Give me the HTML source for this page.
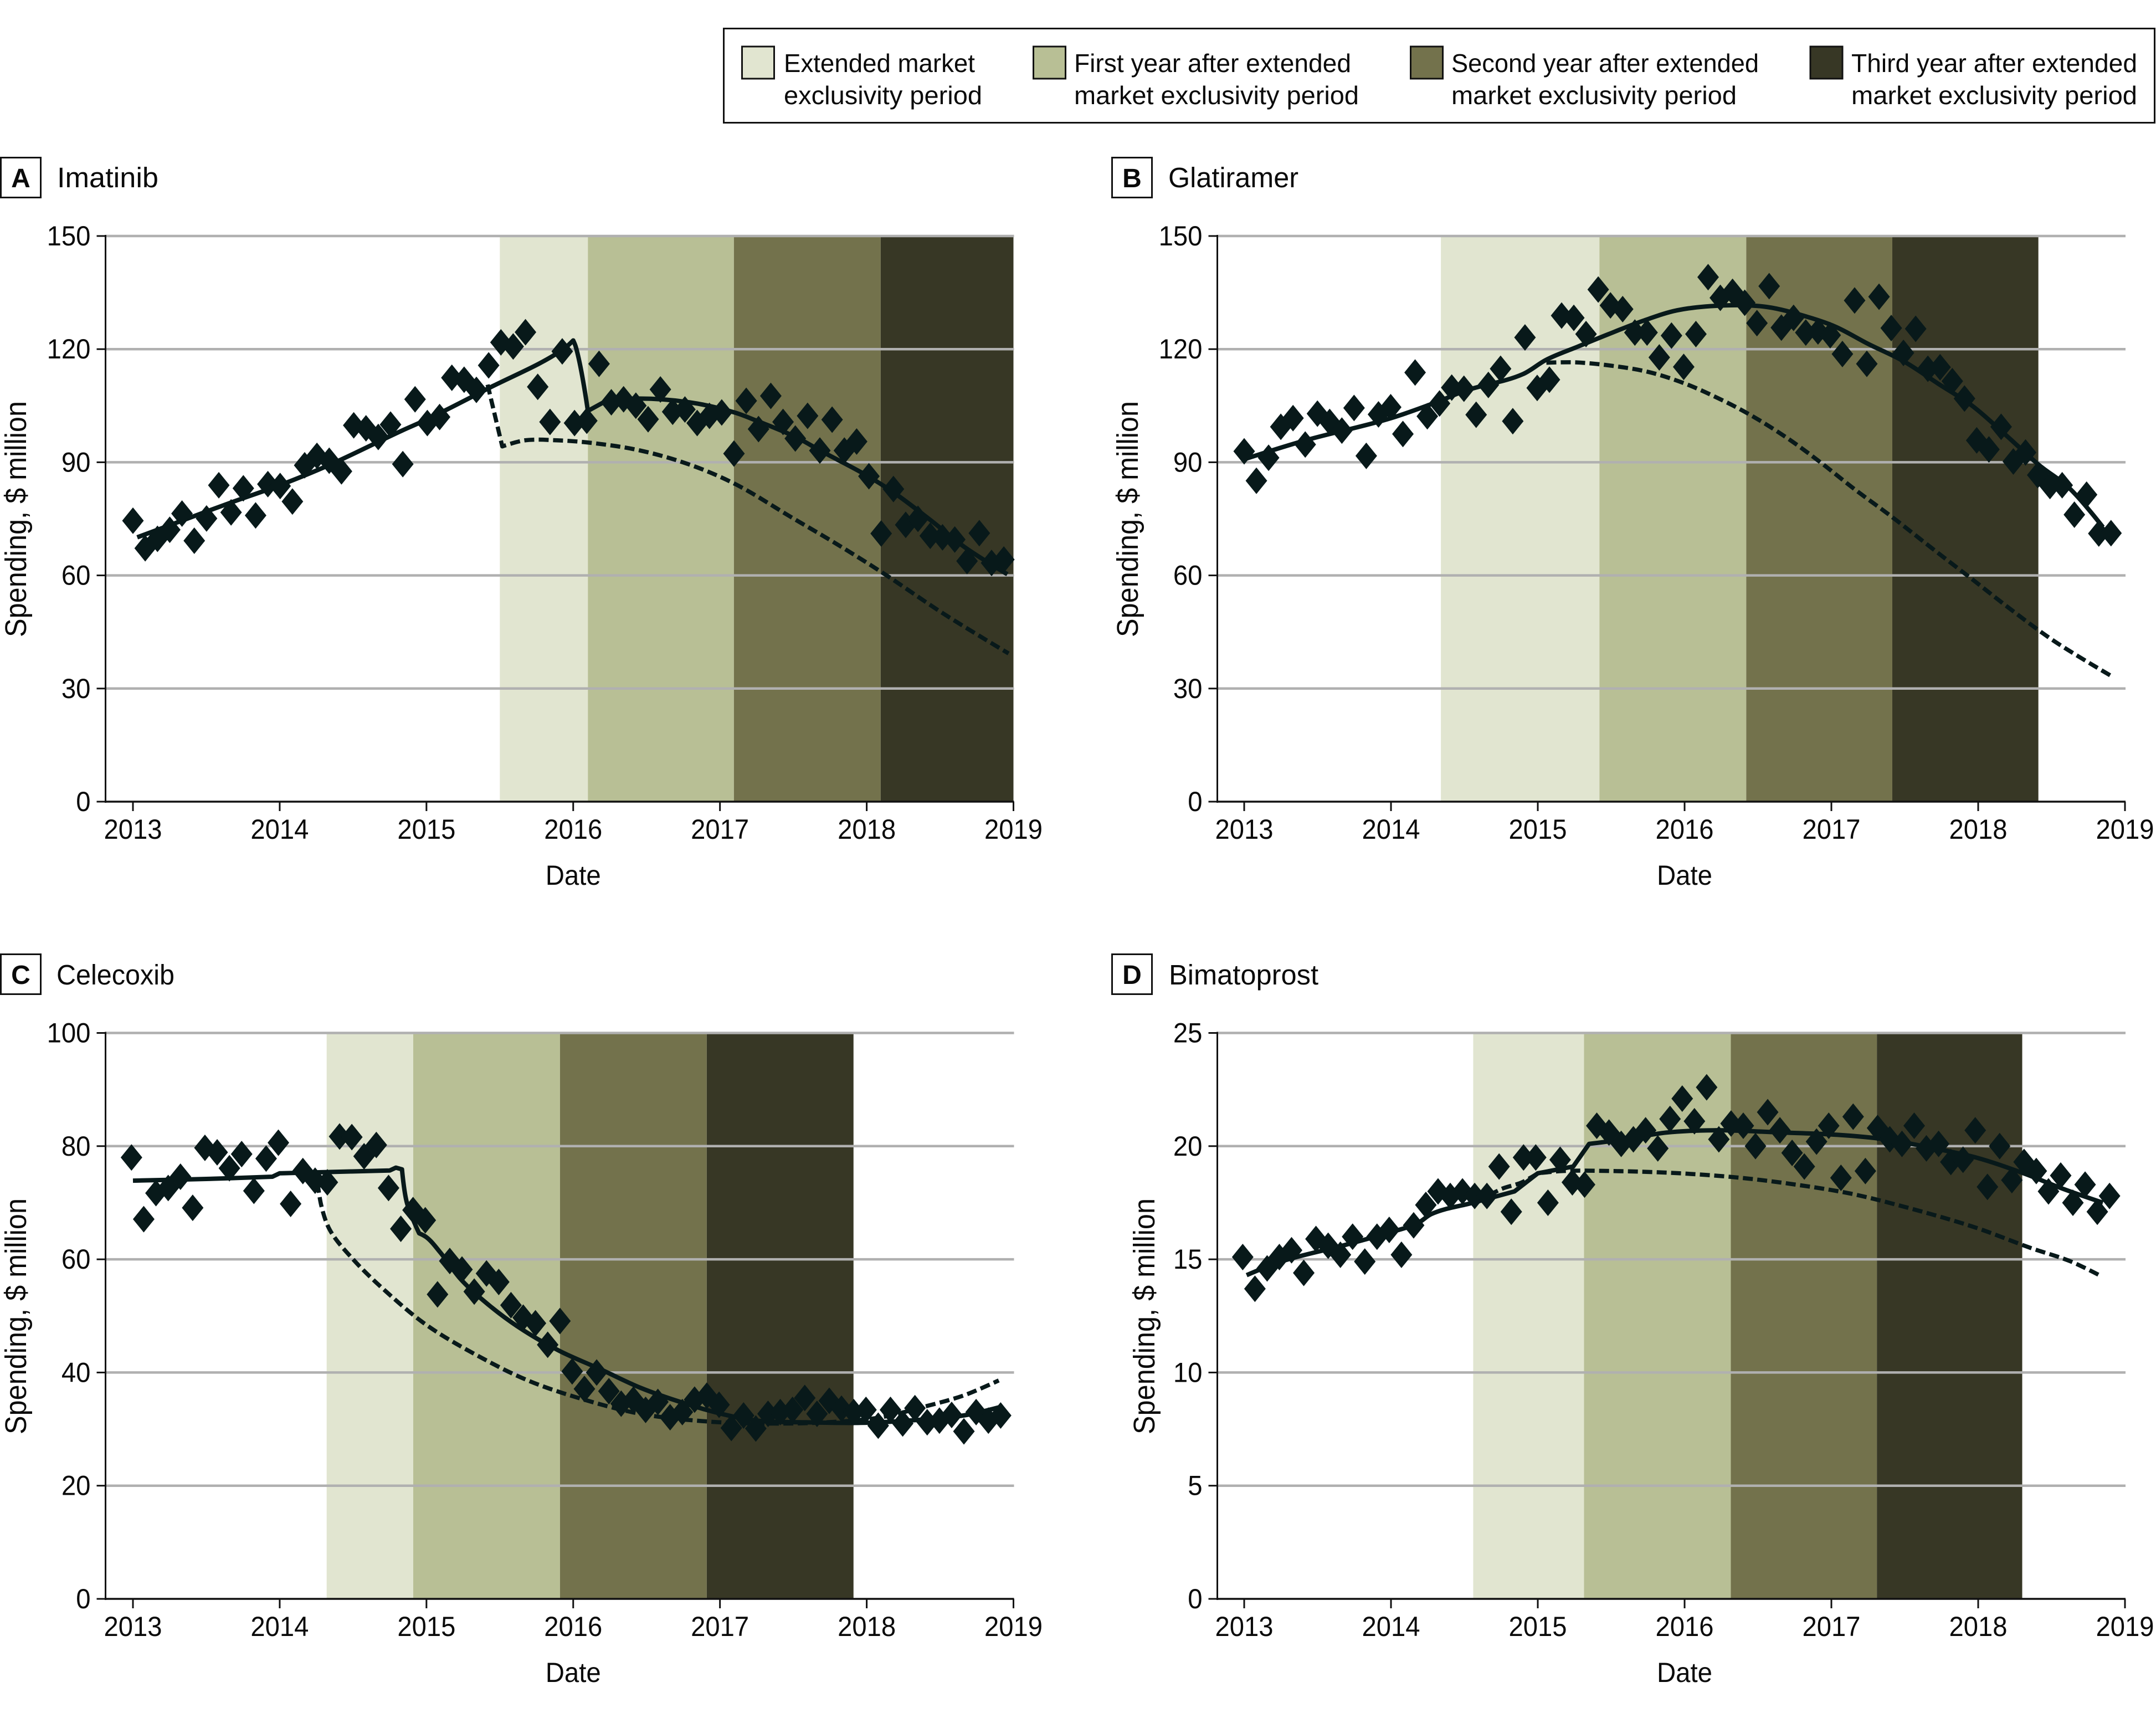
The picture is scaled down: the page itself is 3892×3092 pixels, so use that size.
<!DOCTYPE html>
<html lang="en">
<head>
<meta charset="utf-8">
<title>Spending by drug</title>
<style>
html,body{margin:0;padding:0;background:#fff;}
svg{display:block;}
text{font-family:"Liberation Sans",sans-serif;fill:#0a0a0a;}
</style>
</head>
<body>
<svg id="figure" xmlns="http://www.w3.org/2000/svg" width="3892" height="3092" viewBox="0 0 3892 3092">
<rect x="0" y="0" width="3892" height="3092" fill="#ffffff"/>
<g>
<rect x="1306.5" y="51.5" width="2583" height="170" fill="#fff" stroke="#111" stroke-width="3"/>
<rect x="1339.5" y="84" width="58" height="58" fill="#e1e5d0" stroke="#111" stroke-width="3"/>
<text font-size="46" x="1415" y="130" textLength="345" lengthAdjust="spacingAndGlyphs">Extended market</text>
<text font-size="46" x="1415" y="188" textLength="358" lengthAdjust="spacingAndGlyphs">exclusivity period</text>
<rect x="1865.5" y="84" width="58" height="58" fill="#b8bf95" stroke="#111" stroke-width="3"/>
<text font-size="46" x="1939" y="130" textLength="500" lengthAdjust="spacingAndGlyphs">First year after extended</text>
<text font-size="46" x="1939" y="188" textLength="514" lengthAdjust="spacingAndGlyphs">market exclusivity period</text>
<rect x="2546.5" y="84" width="58" height="58" fill="#73724c" stroke="#111" stroke-width="3"/>
<text font-size="46" x="2620" y="130" textLength="555" lengthAdjust="spacingAndGlyphs">Second year after extended</text>
<text font-size="46" x="2620" y="188" textLength="515" lengthAdjust="spacingAndGlyphs">market exclusivity period</text>
<rect x="3268" y="84" width="58" height="58" fill="#373725" stroke="#111" stroke-width="3"/>
<text font-size="46" x="3342" y="130" textLength="516" lengthAdjust="spacingAndGlyphs">Third year after extended</text>
<text font-size="46" x="3342" y="188" textLength="516" lengthAdjust="spacingAndGlyphs">market exclusivity period</text>
</g>
<g>
<rect x="1.5" y="284.5" width="72" height="72" fill="#fff" stroke="#111" stroke-width="3"/>
<text font-size="48" font-weight="700" x="37.5" y="338" text-anchor="middle">A</text>
<text font-size="51" x="103" y="338" textLength="183" lengthAdjust="spacingAndGlyphs">Imatinib</text>
<rect x="2007.5" y="284.5" width="72" height="72" fill="#fff" stroke="#111" stroke-width="3"/>
<text font-size="48" font-weight="700" x="2043.5" y="338" text-anchor="middle">B</text>
<text font-size="51" x="2109" y="338" textLength="235" lengthAdjust="spacingAndGlyphs">Glatiramer</text>
<rect x="1.5" y="1722.5" width="72" height="72" fill="#fff" stroke="#111" stroke-width="3"/>
<text font-size="48" font-weight="700" x="37.5" y="1776" text-anchor="middle">C</text>
<text font-size="51" x="102" y="1777" textLength="213" lengthAdjust="spacingAndGlyphs">Celecoxib</text>
<rect x="2007.5" y="1722.5" width="72" height="72" fill="#fff" stroke="#111" stroke-width="3"/>
<text font-size="48" font-weight="700" x="2043.5" y="1776" text-anchor="middle">D</text>
<text font-size="51" x="2110" y="1777" textLength="270" lengthAdjust="spacingAndGlyphs">Bimatoprost</text>
</g>
</svg>
<script>
const xTickLabels = ['2013','2014','2015','2016','2017','2018','2019'];
const bandColors = ['#e1e5d0','#b8bf95','#73724c','#373725'];

const yTicksA = [0,30,60,90,120,150];
const bandYearsA = [2015.5,2016.1,2017.095,2018.095,2019];
const spendingA = [74.5,67.2,69.7,72.1,76.4,69.2,75.1,83.9,76.7,83.1,75.9,84.2,83.7,79.6,89.2,91.7,90.4,87.6,99.8,99,96.7,100,89.5,106.7,100.4,102,112.4,111.9,109.2,115.7,121.8,120.7,124.5,110,100.7,119.4,100.4,101,116.1,105.9,106.7,105,101.4,109.3,103.4,104,100.4,102.3,103.2,92.3,106.3,98.8,107.6,100.7,96.3,102.3,93.1,101.3,93.1,95.5,86.3,71.1,82.9,73.4,75,70.5,70.1,69.5,63.8,71.2,63.3,64.2];
const fitMonthsA = [0.35,4,8,12,16,22,24,29,35.2,36,36.2,37.2,38.7,41.2,45.5,49.2,51,54.2,56.2,60,62.2,65.2,68,71.5];
const fitValuesA = [70.1,74.5,79.3,83.9,89.2,98.4,101.3,109.5,120,122.3,120.7,103.6,106.3,106.9,105.9,103.2,101,96.7,93.1,86.5,82,74.7,67.5,60.3];
const counterMonthsA = [29,30.2,32,34.8,37.6,41.5,45.5,49.2,54,57.3,61.2,66.3,71.6];
const counterValuesA = [110.6,94.2,95.8,95.8,95.1,93.1,89.4,84.3,75.1,68.8,60.9,49.8,39.3];

const yTicksB = [0,30,60,90,120,150];
const bandYearsB = [2014.34,2015.42,2016.42,2017.415,2018.41];
const spendingB = [92.9,85.1,91.2,99.4,101.7,94.7,102.9,100.7,98.4,104.4,91.7,102.7,104.6,97.5,113.8,102.2,105.6,109.8,109.5,102.6,110.5,114.8,100.9,123.1,109.7,111.9,128.9,128.3,124,135.8,131.6,130.6,124.4,124.4,117.8,123.6,115.3,124,139.1,133.6,135.2,132.3,126.9,136.7,125.7,128.3,124.4,124.7,123.7,118.7,132.9,116.1,133.9,125.6,119,125.4,114.8,115.2,111.5,106.9,95.8,93.4,99.4,90.2,92.6,86.6,83.7,83.9,76.1,81.4,71.1,71.2];
const fitMonthsB = [0,5,12,16,18,22.8,24.7,27.3,29.8,32.6,35.4,39.3,42.7,46,48.3,51,53.9,56.7,59.5,62.3,65,67.4,70.2];
const fitValuesB = [90.8,95.8,101.7,106.3,108.9,113.4,117.2,120.7,124,127.5,130.3,131.6,131.2,128.6,126,121.4,116.8,110.9,105,97.1,89.2,83.3,72.8];
const counterMonthsB = [24.7,27,29.8,33.1,36,38.8,41.3,44.4,46.9,50,53,56.1,59.5,62.9,66.2,71];
const counterValuesB = [116.4,116.5,115.7,113.9,110.9,106.9,102.7,96.4,90.5,82.6,75.4,67.5,59,50.4,42.6,33.1];

const yTicksC = [0,20,40,60,80,100];
const bandYearsC = [2014.32,2014.91,2015.91,2016.91,2017.91];
const spendingC = [78,67.1,71.7,72.6,74.6,69.1,79.7,78.9,76.1,78.6,72.1,77.8,80.6,69.8,75.6,73.9,73.6,81.7,81.6,78.2,80.2,72.6,65.4,68.7,66.9,53.8,59.7,58.2,54.3,57.5,56,51.9,49.7,48.7,44.9,49.1,40.2,37.1,40,36.7,34.5,35.2,33.4,34.8,32.1,33,35.2,35.9,34.3,30.2,32.4,30.1,32.7,33,33.4,35.5,32.7,35,33.6,33,33.4,30.6,33.4,31,33.7,31.2,31.5,32.5,29.6,33,31.5,32.4];
const fitMonthsC = [0,6,11.4,12,15.6,21,21.5,22,22.4,23.4,24,25.1,26.8,28.5,31.4,34.8,38.2,41.5,44.9,48.3,51,55,59.5,63.4,67.9,70.9];
const fitValuesC = [73.9,74.2,74.6,75.2,75.4,75.7,76.2,75.9,70,64.6,63.9,61.3,56.5,53,48.2,43.9,40.6,37.3,34.7,32.6,31.5,31.2,31.1,31.5,32.4,33.9];
const counterMonthsC = [15.1,15.4,16.1,18,20.7,24,28.5,32.4,36.9,41.5,46.6,51,56.7,61.2,64.6,68,70.8];
const counterValuesC = [73.5,69.5,65.2,60,54.3,48.4,42.6,38.5,35.2,32.7,31.4,31,31.2,32.1,33.9,36,38.6];

const yTicksD = [0,5,10,15,20,25];
const bandYearsD = [2014.56,2015.315,2016.315,2017.31,2018.3];
const spendingD = [15.1,13.7,14.6,15.1,15.4,14.4,15.9,15.6,15.2,16,14.9,16,16.3,15.2,16.5,17.4,18,17.8,18,17.8,17.8,19.1,17.1,19.5,19.5,17.5,19.4,18.4,18.3,20.9,20.6,20.1,20.3,20.7,19.9,21.2,22.1,21.1,22.6,20.3,21,20.9,20,21.5,20.7,19.7,19.1,20.2,20.9,18.6,21.3,18.9,20.8,20.3,20.1,20.9,19.9,20.1,19.3,19.4,20.7,18.2,20,18.5,19.3,18.9,18,18.7,17.5,18.3,17.1,17.8];
const fitMonthsD = [0.2,3,8,12,14.2,15.3,18.7,22.1,24,26.9,28.2,31.1,34.5,38.4,44,48.5,52.4,56.4,59.8,63.7,67,70.2];
const fitValuesD = [14.3,14.9,15.6,16.2,16.6,17,17.5,18,18.8,19.1,20.1,20.3,20.6,20.7,20.6,20.5,20.3,19.9,19.5,18.8,18.1,17.5];
const counterMonthsD = [19,21,22.7,24,26,30,35.6,40.6,45.1,49.6,54.1,59.8,64.3,67.6,69.9];
const counterValuesD = [17.5,18.1,18.4,18.8,18.9,18.9,18.8,18.6,18.3,17.9,17.3,16.4,15.5,14.9,14.3];

const SVGNS = 'http://www.w3.org/2000/svg';
const INK = '#08191a';
const figure = document.getElementById('figure');

function make(parent, tag, attrs) {
  const el = document.createElementNS(SVGNS, tag);
  for (const k in attrs) el.setAttribute(k, attrs[k]);
  parent.appendChild(el);
  return el;
}

// Smooth curve through the data points, keeping sharp corners where the trend breaks.
function curveThrough(pts) {
  const seg = (a, b) => Math.hypot(b[0] - a[0], b[1] - a[1]);
  const tangents = pts.map((pt, i) => {
    if (i === 0 || i === pts.length - 1) return null;
    const a = pts[i - 1], b = pts[i + 1];
    const u = [(pt[0] - a[0]) / seg(a, pt), (pt[1] - a[1]) / seg(a, pt)];
    const v = [(b[0] - pt[0]) / seg(pt, b), (b[1] - pt[1]) / seg(pt, b)];
    if (u[0] * v[0] + u[1] * v[1] < 0.93) return null;
    const t = [u[0] + v[0], u[1] + v[1]];
    const len = Math.hypot(t[0], t[1]);
    return [t[0] / len, t[1] / len];
  });
  let d = 'M' + pts[0][0].toFixed(1) + ' ' + pts[0][1].toFixed(1);
  for (let i = 0; i < pts.length - 1; i++) {
    const a = pts[i], b = pts[i + 1], l = seg(a, b) / 3;
    const c1 = tangents[i] ? [a[0] + tangents[i][0] * l, a[1] + tangents[i][1] * l] : a;
    const c2 = tangents[i + 1] ? [b[0] - tangents[i + 1][0] * l, b[1] - tangents[i + 1][1] * l] : b;
    d += ' C' + [c1[0], c1[1], c2[0], c2[1], b[0], b[1]].map(n => n.toFixed(1)).join(' ');
  }
  return d;
}

function drawPanel(p) {
  const xScale = year => p.x2013 + (year - 2013) * (p.x2019 - p.x2013) / 6;
  const monthX = m => xScale(2013 + m / 12);
  const yMax = p.ticks[p.ticks.length - 1];
  const yScale = v => p.y0 - v / yMax * (p.y0 - p.yTop);

  const g = make(figure, 'g', {});
  
  

  p.bands.slice(0, -1).forEach((start, i) => {
    const r = make(g, 'rect', {x: xScale(start), y: p.yTop, width: xScale(p.bands[i + 1]) - xScale(start), height: p.y0 - p.yTop, fill: bandColors[i]});
    
    
  });

  p.ticks.forEach(t => {
    if (t !== 0) {
      const grid = make(g, 'line', {x1: p.axisX + 1, x2: p.x2019 + 1, y1: yScale(t), y2: yScale(t), stroke: '#b0b0b0', 'stroke-width': 4.5});
      
      
    }
    const tick = make(g, 'line', {x1: p.axisX - 16, x2: p.axisX, y1: yScale(t), y2: yScale(t), stroke: '#111', 'stroke-width': 3});
    
    
    const label = make(g, 'text', {x: p.axisX - 27 - 26.3 * String(t).length, y: yScale(t) + 17, 'font-size': 50, textLength: 26.3 * String(t).length, lengthAdjust: 'spacingAndGlyphs'});
    label.textContent = t;
    
    
  });

  const yAxis = make(g, 'line', {x1: p.axisX, x2: p.axisX, y1: p.yTop - 2, y2: p.y0 + 2, stroke: '#111', 'stroke-width': 3});
  
  
  const xAxis = make(g, 'line', {x1: p.axisX, x2: p.x2019 + 1, y1: p.y0, y2: p.y0, stroke: '#111', 'stroke-width': 3.5});
  
  

  xTickLabels.forEach(lbl => {
    const xx = xScale(Number(lbl));
    const tick = make(g, 'line', {x1: xx, x2: xx, y1: p.y0, y2: p.y0 + 17, stroke: '#111', 'stroke-width': 3});
    
    
    const label = make(g, 'text', {x: xx - 52.5, y: p.y0 + 67, 'font-size': 50, textLength: 105, lengthAdjust: 'spacingAndGlyphs'});
    label.textContent = lbl;
    
    
  });

  const xTitle = make(g, 'text', {x: (p.x2013 + p.x2019) / 2 - 50, y: p.y0 + 150, 'font-size': 50, textLength: 100, lengthAdjust: 'spacingAndGlyphs'});
  xTitle.textContent = 'Date';
  
  

  const yTitle = make(g, 'text', {transform: 'translate(' + p.titleX + ',' + (p.y0 - 297) + ') rotate(-90)', 'font-size': 54, textLength: 426, lengthAdjust: 'spacingAndGlyphs'});
  yTitle.textContent = 'Spending, $ million';
  
  

  const curveFrom = (ms, vs) => curveThrough(ms.map((m, i) => [monthX(m), yScale(vs[i])]));

  const counter = make(g, 'path', {d: curveFrom(p.counterMonths, p.counterValues), fill: 'none', stroke: INK, 'stroke-width': 7.5, 'stroke-dasharray': '18 8', 'stroke-linejoin': 'round'});
  
  

  const fit = make(g, 'path', {d: curveFrom(p.fitMonths, p.fitValues), fill: 'none', stroke: INK, 'stroke-width': 8, 'stroke-linejoin': 'round'});
  
  

  p.values.forEach((v, i) => {
    const cx = monthX(i * p.monthStep + p.monthShift);
    const cy = yScale(v);
    const d = make(g, 'polygon', {points: [cx, cy - 24, cx + 19.5, cy, cx, cy + 24, cx - 19.5, cy].join(','), fill: INK});
    
    
  });
}

drawPanel({id: 'a', x2013: 240, x2019: 1829.5, axisX: 190.5, yTop: 426, y0: 1447, titleX: 47, ticks: yTicksA, bands: bandYearsA, values: spendingA, fitMonths: fitMonthsA, fitValues: fitValuesA, counterMonths: counterMonthsA, counterValues: counterValuesA, monthStep: 1.003, monthShift: 0});
drawPanel({id: 'b', x2013: 2246, x2019: 3836, axisX: 2197.5, yTop: 426, y0: 1447, titleX: 2054, ticks: yTicksB, bands: bandYearsB, values: spendingB, fitMonths: fitMonthsB, fitValues: fitValuesB, counterMonths: counterMonthsB, counterValues: counterValuesB, monthStep: 0.998, monthShift: 0});
drawPanel({id: 'c', x2013: 240, x2019: 1829.5, axisX: 190.5, yTop: 1864.5, y0: 2886, titleX: 47, ticks: yTicksC, bands: bandYearsC, values: spendingC, fitMonths: fitMonthsC, fitValues: fitValuesC, counterMonths: counterMonthsC, counterValues: counterValuesC, monthStep: 1.001, monthShift: -0.12});
drawPanel({id: 'd', x2013: 2246, x2019: 3836, axisX: 2197.5, yTop: 1864.5, y0: 2886, titleX: 2084, ticks: yTicksD, bands: bandYearsD, values: spendingD, fitMonths: fitMonthsD, fitValues: fitValuesD, counterMonths: counterMonthsD, counterValues: counterValuesD, monthStep: 0.998, monthShift: -0.12});
</script>
</body>
</html>
